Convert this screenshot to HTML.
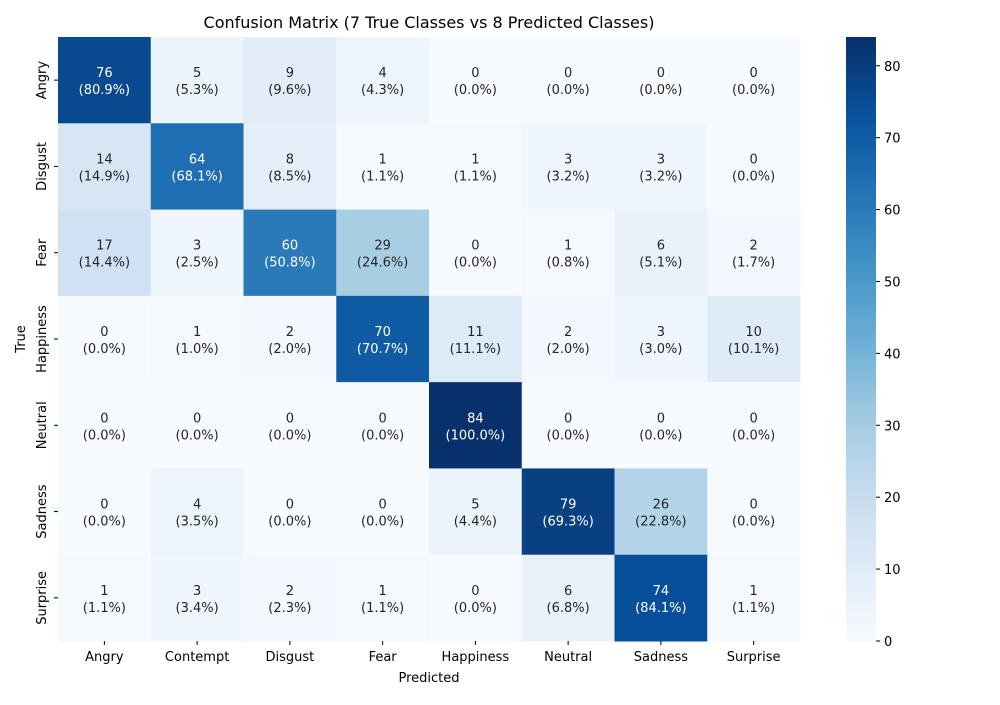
<!DOCTYPE html>
<html><head><meta charset="utf-8"><style>
body{margin:0;background:#fff;font-family:"Liberation Sans","DejaVu Sans",sans-serif;}
</style></head><body>
<svg id="chart" width="1000" height="700" xmlns="http://www.w3.org/2000/svg" font-family="'DejaVu Sans','Liberation Sans',sans-serif">
<defs><linearGradient id="cbgrad" x1="0" y1="1" x2="0" y2="0">
<stop offset="0" stop-color="#f7fbff"/><stop offset="0.125" stop-color="#deebf7"/><stop offset="0.25" stop-color="#c6dbef"/><stop offset="0.375" stop-color="#9ecae1"/><stop offset="0.5" stop-color="#6baed6"/><stop offset="0.625" stop-color="#4292c6"/><stop offset="0.75" stop-color="#2171b5"/><stop offset="0.875" stop-color="#08519c"/><stop offset="1" stop-color="#08306b"/></linearGradient></defs>
<text x="429" y="28" text-anchor="middle" font-size="16" fill="#000">Confusion Matrix (7 True Classes vs 8 Predicted Classes)</text>
<g id="cells"></g>
<text x="429" y="682" text-anchor="middle" font-size="13">Predicted</text>
<text x="25" y="339" text-anchor="middle" font-size="13" transform="rotate(-90 25 339)">True</text>
<rect x="846" y="37" width="30" height="604" fill="url(#cbgrad)"/>
<g id="cbticks"></g>
</svg>
<script>
const predLabels=["Angry","Contempt","Disgust","Fear","Happiness","Neutral","Sadness","Surprise"];
const trueLabels=["Angry","Disgust","Fear","Happiness","Neutral","Sadness","Surprise"];
const rowAngry=[76,5,9,4,0,0,0,0];
const rowDisgust=[14,64,8,1,1,3,3,0];
const rowFear=[17,3,60,29,0,1,6,2];
const rowHappiness=[0,1,2,70,11,2,3,10];
const rowNeutral=[0,0,0,0,84,0,0,0];
const rowSadness=[0,4,0,0,5,79,26,0];
const rowSurprise=[1,3,2,1,0,6,74,1];
const cbTicks=[0,10,20,30,40,50,60,70,80];
const vmax=84;
const matrix=[rowAngry,rowDisgust,rowFear,rowHappiness,rowNeutral,rowSadness,rowSurprise];
const X0=58,X1=800,Y0=37,Y1=641;
const cw=(X1-X0)/predLabels.length, ch=(Y1-Y0)/trueLabels.length;
const xs=j=>X0+j*cw, ys=i=>Y0+i*ch;
const stops=["#f7fbff","#deebf7","#c6dbef","#9ecae1","#6baed6","#4292c6","#2171b5","#08519c","#08306b"].map(h=>[1,3,5].map(k=>parseInt(h.substr(k,2),16)));
function cmap(t){t=Math.max(0,Math.min(1,t));const p=t*8,i=Math.min(7,Math.floor(p)),f=p-i;const c=stops[i].map((v,k)=>Math.round(v+(stops[i+1][k]-v)*f));return `rgb(${c})`;}
const NS="http://www.w3.org/2000/svg";
const g=document.getElementById('cells');
function mk(tag,attrs,parent){const e=document.createElementNS(NS,tag);for(const k in attrs)e.setAttribute(k,attrs[k]);parent.appendChild(e);return e;}
matrix.forEach((row,i)=>{
  const sum=row.reduce((a,b)=>a+b,0);
  row.forEach((v,j)=>{
    const r=mk('rect',{x:xs(j),y:ys(i),width:cw+0.5,height:ch+0.5,fill:cmap(v/vmax)},g);
    
    
    const col=v/vmax>0.55?"#fff":"#262626";
    const cx=xs(j)+cw/2, cy=ys(i)+ch/2;
    const t=mk('text',{x:cx,y:cy-3,'text-anchor':'middle','font-size':13,fill:col},g);
    
    
    t.textContent=v;
    const t2=mk('text',{x:cx,y:cy+14,'text-anchor':'middle','font-size':13,fill:col},g);
    
    
    t2.textContent='('+(sum?v/sum*100:0).toFixed(1)+'%)';
  });
});
predLabels.forEach((l,j)=>{
  const x=xs(j)+cw/2;
  mk('line',{x1:x,x2:x,y1:Y1,y2:Y1+4,stroke:'#000'},g);
  const t=mk('text',{x:x,y:Y1+20,'text-anchor':'middle','font-size':13},g);
  
  
  t.textContent=l;
});
trueLabels.forEach((l,i)=>{
  const y=ys(i)+ch/2;
  mk('line',{x1:X0-4,x2:X0,y1:y,y2:y,stroke:'#000'},g);
  const t=mk('text',{x:46,y:y,'text-anchor':'middle','font-size':13,transform:`rotate(-90 46 ${y})`},g);
  
  
  t.textContent=l;
});
const cb=document.getElementById('cbticks');
cbTicks.forEach(v=>{
  const y=641-v/vmax*604;
  mk('line',{x1:876,x2:880,y1:y,y2:y,stroke:'#000'},cb);
  const t=mk('text',{x:884,y:y+5,'font-size':13},cb);
  
  
  t.textContent=v;
});
</script>
</body></html>
